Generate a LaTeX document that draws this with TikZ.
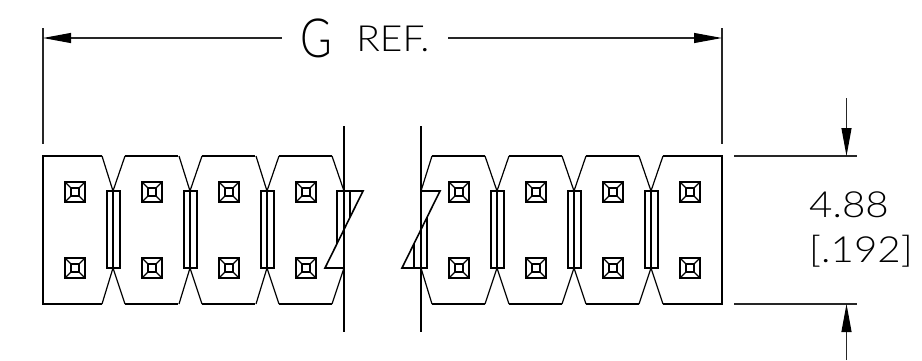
\documentclass[tikz,border=0pt]{standalone}
\usepackage{fontspec}
\setmainfont{Lato Light}
\usetikzlibrary{arrows.meta}
\tikzset{
	outline/.style={line width=1.2pt,black,line join=miter},
	breakline/.style={line width=1.6pt,black,line join=miter},
	dimline/.style={line width=1.1pt,black!85},
	dimarrow/.style={dimline,-{Triangle[length=28pt,width=10pt,color=black]}},
	dimtext/.style={inner sep=0pt,align=left,black,font=\fontsize{36}{45}\selectfont}
}
\begin{document}
\begin{tikzpicture}[x=1pt,y=-1pt]
	\useasboundingbox (0,0) rectangle (922,360);

	% Left strip
	\draw[outline] (102,156) -- (43,156) -- (43,304) -- (102,304);
	\foreach \h in {113,190,267} {
		\draw[outline] (\h-11,156) -- (\h,191) -- (\h+12,156);
		\draw[outline] (\h-11,304) -- (\h,268) -- (\h+12,304);
		\draw[outline] (\h-6,191) rectangle (\h+7,268);
		\draw[outline] (\h,191) -- (\h,268);
	}
	\foreach \x in {125,202,279}
		\draw[outline] (\x,156) -- (\x+53,156);
	\foreach \x in {125,202,279}
		\draw[outline] (\x,304) -- (\x+53,304);

	% Right strip
	\draw[outline] (663,156) -- (722,156) -- (722,304) -- (663,304);
	\foreach \h in {497,574,651} {
		\draw[outline] (\h-12,156) -- (\h,191) -- (\h+12,156);
		\draw[outline] (\h-12,304) -- (\h,268) -- (\h+12,304);
		\draw[outline] (\h-6,191) rectangle (\h+7,268);
		\draw[outline] (\h,191) -- (\h,268);
	}
	\foreach \x in {432,509,586}
		\draw[outline] (\x,156) -- (\x+53,156);
	\foreach \x in {432,509,586}
		\draw[outline] (\x,304) -- (\x+53,304);

	% Square pads
	\foreach \x in {75,152,229,306,459,536,613,690}
		\foreach \y in {192,268} {
			\draw[outline] (\x-10,\y-10) rectangle (\x+10,\y+10);
			\draw[outline] (\x-4,\y-4) rectangle (\x+4,\y+4);
			\draw[outline] (\x-10,\y-10) -- (\x-4,\y-4);
			\draw[outline] (\x+10,\y-10) -- (\x+4,\y-4);
			\draw[outline] (\x-10,\y+10) -- (\x-4,\y+4);
			\draw[outline] (\x+10,\y+10) -- (\x+4,\y+4);
		}

	% Break, left side
	\draw[outline] (344,126) -- (344,332);
	\draw[outline] (332,156) -- (344,191);
	\draw[outline] (332,304) -- (344,268);
	\draw[breakline] (337,244) -- (337,191) -- (363,191) -- (325,268) -- (344,268);
	\draw[breakline] (350,191) -- (350,217);

	% Break, right side
	\draw[outline] (421,126) -- (421,332);
	\draw[outline] (432,156) -- (421,191);
	\draw[outline] (432,304) -- (421,268);
	\draw[breakline] (421,191) -- (440,191) -- (402,268) -- (427,268) -- (427,217);
	\draw[breakline] (414,268) -- (414,244);

	% Extension lines
	\draw[dimline] (43,28) -- (43,144);
	\draw[dimline] (722,28) -- (722,144);
	\draw[dimline] (734,156) -- (857,156);
	\draw[dimline] (734,304) -- (857,304);

	% Dimension G
	\coordinate (gleft) at (43,38);
	\coordinate (gright) at (722,38);
	\node[dimtext,align=center,minimum width=166pt] (gref) at (365,38) {\raisebox{-6pt}{\scalebox{0.8}[1]{\fontsize{54}{54}\selectfont G}}\hspace{24pt}\scalebox{1.08}[1]{REF.}};
	\draw[dimarrow] (gref) -- (gleft);
	\draw[dimarrow] (gref) -- (gright);

	% Dimension 4.88
	\coordinate (uptop) at (846.5,98);
	\coordinate (uptip) at (846.5,156);
	\coordinate (lowtop) at (846.5,360);
	\coordinate (lowtip) at (846.5,304);
	\draw[dimarrow] (uptop) -- (uptip);
	\draw[dimarrow] (lowtop) -- (lowtip);
	\node[dimtext,anchor=west] (height) at (809,229) {\scalebox{1.12}[1]{4.88}\\\scalebox{1.12}[1]{[.192]}};
\end{tikzpicture}
\end{document}
